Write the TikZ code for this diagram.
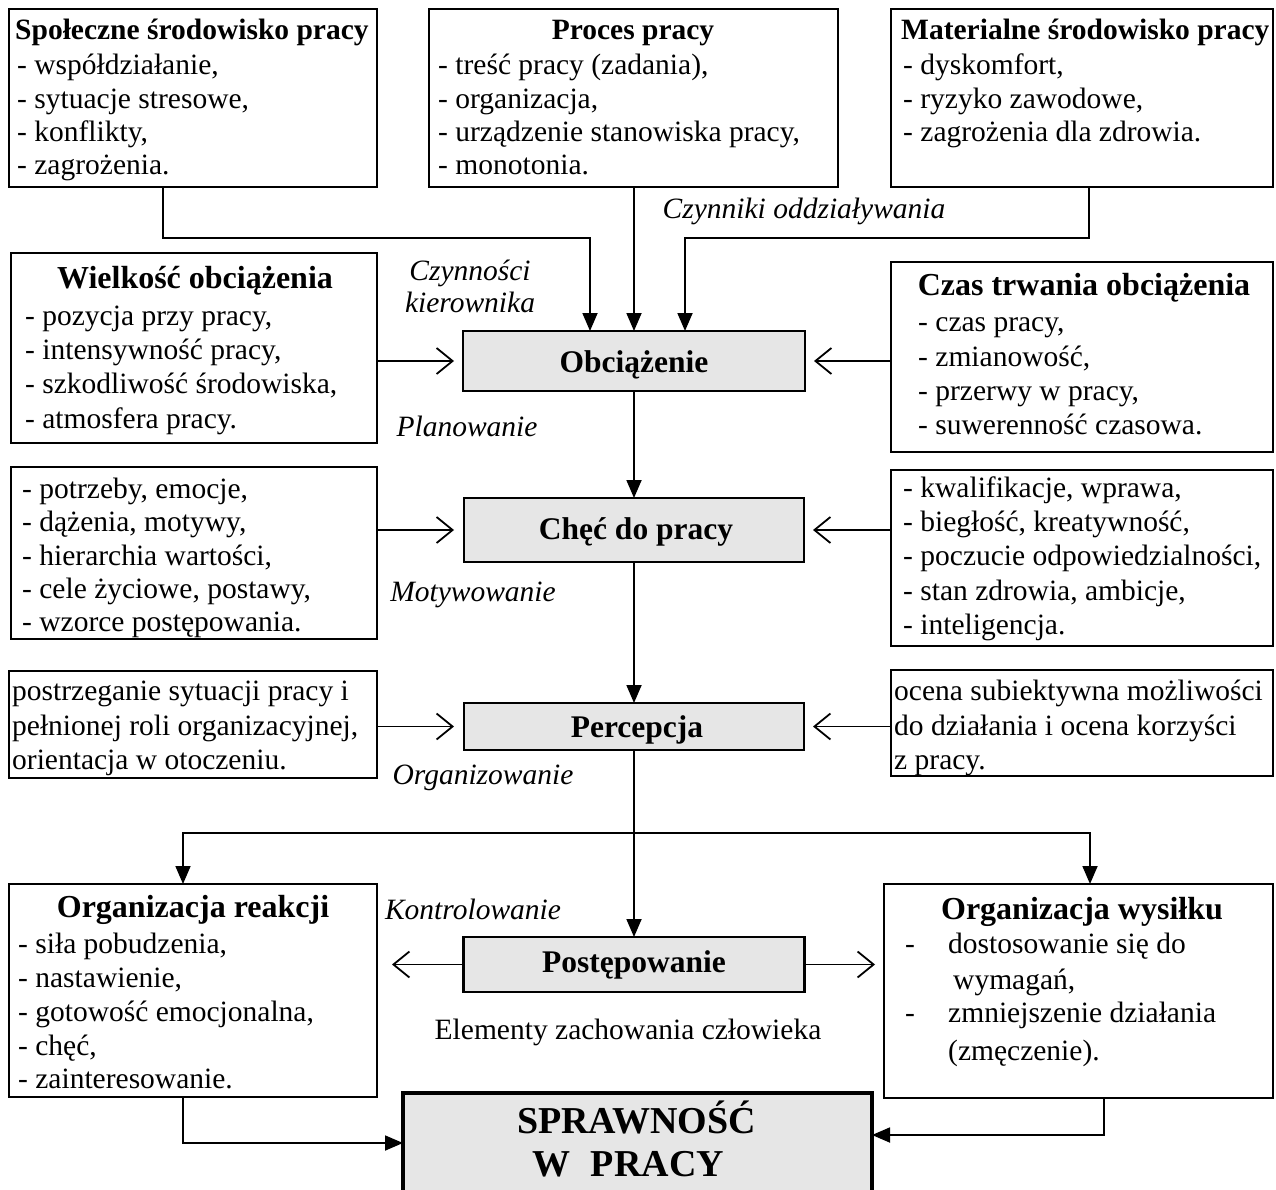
\documentclass[tikz,border=0pt]{standalone}
\usepackage{fontspec}
\setmainfont{Liberation Serif}
\usetikzlibrary{arrows.meta}
\definecolor{boxgray}{HTML}{E6E6E6}
\begin{document}
\begin{tikzpicture}[x=1pt,y=-1pt,
  frame/.style={draw=black, line width=2.6pt, inner sep=0pt, outer sep=0pt},
  core/.style={frame, fill=boxgray},
  txt/.style={inner sep=0pt, anchor=base west, font=\fontsize{29.5}{34}\selectfont},
  ttl/.style={inner sep=0pt, anchor=base, font=\fontsize{29.5}{34}\selectfont\bfseries},
  bigttl/.style={ttl, font=\fontsize{32}{36}\selectfont\bfseries},
  stage/.style={ttl, font=\fontsize{31.5}{36}\selectfont\bfseries},
  lbl/.style={inner sep=0pt, anchor=base, font=\fontsize{29.5}{34}\selectfont\itshape},
  link/.style={line width=1.8pt},
  feed/.style={link, -{Straight Barb[length=16pt,width=26pt,line width=1.8pt]}},
  flow/.style={link, -{Triangle[length=18pt,width=15pt]}},
]
\useasboundingbox (0,0) rectangle (1276,1190);

% ---- boxes ----
\node[frame, minimum width=368pt, minimum height=178pt] (soc)  at (193,98) {};
\node[frame, minimum width=409pt, minimum height=178pt] (proc) at (633.5,98) {};
\node[frame, minimum width=382pt, minimum height=178pt] (mat)  at (1082,98) {};
\node[frame, minimum width=366pt, minimum height=190pt] (wiel) at (194,348) {};
\node[frame, minimum width=382pt, minimum height=190pt] (czas) at (1082,357) {};
\node[core,  minimum width=342pt, minimum height=60pt]  (obc)  at (634,361) {};
\node[frame, minimum width=366pt, minimum height=172pt] (pot)  at (194,553) {};
\node[frame, minimum width=382pt, minimum height=176pt] (kwal) at (1082,558) {};
\node[core,  minimum width=340pt, minimum height=64pt]  (chec) at (634,530) {};
\node[frame, minimum width=368pt, minimum height=107pt] (postr) at (193,724.5) {};
\node[frame, minimum width=382pt, minimum height=106pt] (ocena) at (1082,723) {};
\node[core,  minimum width=340pt, minimum height=47pt]  (perc) at (634,726.5) {};
\node[frame, minimum width=368pt, minimum height=213pt] (reak) at (193,990.5) {};
\node[frame, minimum width=389pt, minimum height=214pt] (wys)  at (1078.5,991) {};
\node[core,  minimum width=341pt, minimum height=55pt]  (act)  at (634,964.5) {};
\node[core, line width=3.4pt, minimum width=469pt, minimum height=104pt] (spr) at (637.5,1145) {};

% ---- connectors: factors acting on the load ----
\coordinate (b1) at (163,238);
\coordinate (b2) at (590,238);
\coordinate (b3) at (1089,238);
\coordinate (b4) at (685,238);
\draw[flow] (soc.south -| b1) -- (b1) -- (b2) -- (obc.north -| b2);
\draw[flow] (proc.south -| obc.north) -- (obc.north);
\draw[flow] (mat.south -| b3) -- (b3) -- (b4) -- (obc.north -| b4);

% ---- side inputs ----
\draw[feed, shorten >=9pt] (wiel.east |- obc.west) -- (obc.west);
\draw[feed, shorten >=9pt] (czas.west |- obc.east) -- (obc.east);
\draw[feed, shorten >=10pt] (pot.east |- chec.west) -- (chec.west);
\draw[feed, shorten >=9pt] (kwal.west |- chec.east) -- (chec.east);
\draw[feed, shorten >=10pt] (postr.east |- perc.west) -- (perc.west);
\draw[feed, shorten >=9pt] (ocena.west |- perc.east) -- (perc.east);

% ---- main chain ----
\draw[flow] (obc.south) -- (chec.north);
\draw[flow] (chec.south) -- (perc.north);
\coordinate (jn) at (634,833);
\coordinate (jl) at (183,833);
\coordinate (jr) at (1090,833);
\draw[link] (perc.south) -- (jn);
\draw[flow] (jn) -- (act.north);
\draw[flow] (jn) -| (reak.north -| jl);
\draw[flow] (jn) -| (wys.north -| jr);
\draw[feed, shorten >=15pt] (act.west) -- (reak.east |- act.west);
\draw[feed, shorten >=9pt] (act.east) -- (wys.west |- act.east);

% ---- into work efficiency ----
\coordinate (k1) at (183,1143);
\coordinate (k2) at (1104,1135);
\draw[flow] (reak.south -| k1) |- (spr.west |- k1);
\draw[flow] (wys.south -| k2) |- (spr.east |- k2);

% ---- texts: top row ----
\node[ttl, anchor=base west] (socT) at (15,40) {Społeczne środowisko pracy};
\node[txt] (soc1) at (17,75) {- współdziałanie,};
\node[txt] (soc2) at (17,109) {- sytuacje stresowe,};
\node[txt] (soc3) at (17,142) {- konflikty,};
\node[txt] (soc4) at (17,175) {- zagrożenia.};

\node[ttl] (procT) at (633,40) {Proces pracy};
\node[txt] (proc1) at (438,75) {- treść pracy (zadania),};
\node[txt] (proc2) at (438,109) {- organizacja,};
\node[txt] (proc3) at (438,142) {- urządzenie stanowiska pracy,};
\node[txt] (proc4) at (438,175) {- monotonia.};

\node[ttl, anchor=base west] (matT) at (901,40) {Materialne środowisko pracy};
\node[txt] (mat1) at (903,75) {- dyskomfort,};
\node[txt] (mat2) at (903,109) {- ryzyko zawodowe,};
\node[txt] (mat3) at (903,142) {- zagrożenia dla zdrowia.};

\node[lbl] (lczyn) at (804,219) {Czynniki oddziaływania};

% ---- load ----
\node[bigttl] (wielT) at (195,288) {Wielkość obciążenia};
\node[txt] (wiel1) at (25,325) {- pozycja przy pracy,};
\node[txt] (wiel2) at (25,359) {- intensywność pracy,};
\node[txt] (wiel3) at (25,393) {- szkodliwość środowiska,};
\node[txt] (wiel4) at (25,428) {- atmosfera pracy.};

\node[lbl] (lkier1) at (470,280) {Czynności};
\node[lbl] (lkier2) at (470,312) {kierownika};

\node[bigttl] (czasT) at (1084,295) {Czas trwania obciążenia};
\node[txt] (czas1) at (918,331) {- czas pracy,};
\node[txt] (czas2) at (918,366) {- zmianowość,};
\node[txt] (czas3) at (918,400) {- przerwy w pracy,};
\node[txt] (czas4) at (918,434) {- suwerenność czasowa.};

\node[stage] (obcT) at (634,372) {Obciążenie};
\node[lbl] (lplan) at (467,436) {Planowanie};

% ---- willingness ----
\node[txt] (pot1) at (22,498) {- potrzeby, emocje,};
\node[txt] (pot2) at (22,531) {- dążenia, motywy,};
\node[txt] (pot3) at (22,565) {- hierarchia wartości,};
\node[txt] (pot4) at (22,598) {- cele życiowe, postawy,};
\node[txt] (pot5) at (22,631) {- wzorce postępowania.};

\node[txt] (kwal1) at (903,497) {- kwalifikacje, wprawa,};
\node[txt] (kwal2) at (903,531) {- biegłość, kreatywność,};
\node[txt] (kwal3) at (903,565) {- poczucie odpowiedzialności,};
\node[txt] (kwal4) at (903,600) {- stan zdrowia, ambicje,};
\node[txt] (kwal5) at (903,634) {- inteligencja.};

\node[stage] (checT) at (636,539) {Chęć do pracy};
\node[lbl] (lmot) at (473,601) {Motywowanie};

% ---- perception ----
\node[txt] (postr1) at (12,700) {postrzeganie sytuacji pracy i};
\node[txt] (postr2) at (12,735) {pełnionej roli organizacyjnej,};
\node[txt] (postr3) at (12,769) {orientacja w otoczeniu.};

\node[txt] (ocena1) at (894,700) {ocena subiektywna możliwości};
\node[txt] (ocena2) at (894,735) {do działania i ocena korzyści};
\node[txt] (ocena3) at (894,769) {z pracy.};

\node[stage] (percT) at (637,737) {Percepcja};
\node[lbl] (lorg) at (483,784) {Organizowanie};

% ---- behaviour ----
\node[bigttl] (reakT) at (193,917) {Organizacja reakcji};
\node[txt] (reak1) at (18,953) {- siła pobudzenia,};
\node[txt] (reak2) at (18,987) {- nastawienie,};
\node[txt] (reak3) at (18,1021) {- gotowość emocjonalna,};
\node[txt] (reak4) at (18,1055) {- chęć,};
\node[txt] (reak5) at (18,1088) {- zainteresowanie.};

\node[lbl] (lkontr) at (473,919) {Kontrolowanie};

\node[bigttl] (wysT) at (1082,919) {Organizacja wysiłku};
\node[txt] (wysd1) at (905,953) {-};
\node[txt] (wys1) at (948,953) {dostosowanie się do};
\node[txt] (wys2) at (953,989) {wymagań,};
\node[txt] (wysd2) at (905,1022) {-};
\node[txt] (wys3) at (948,1022) {zmniejszenie działania};
\node[txt] (wys4) at (948,1060) {(zmęczenie).};

\node[stage] (actT) at (634,972) {Postępowanie};
\node[txt, anchor=base] (elem) at (628,1039) {Elementy zachowania człowieka};

\node[ttl, font=\fontsize{38}{43}\selectfont\bfseries] (spr1) at (636.5,1133) {SPRAWNOŚĆ};
\node[ttl, font=\fontsize{38}{43}\selectfont\bfseries] (spr2) at (628,1176) {W\hspace{0.55em}PRACY};
\end{tikzpicture}
\end{document}
